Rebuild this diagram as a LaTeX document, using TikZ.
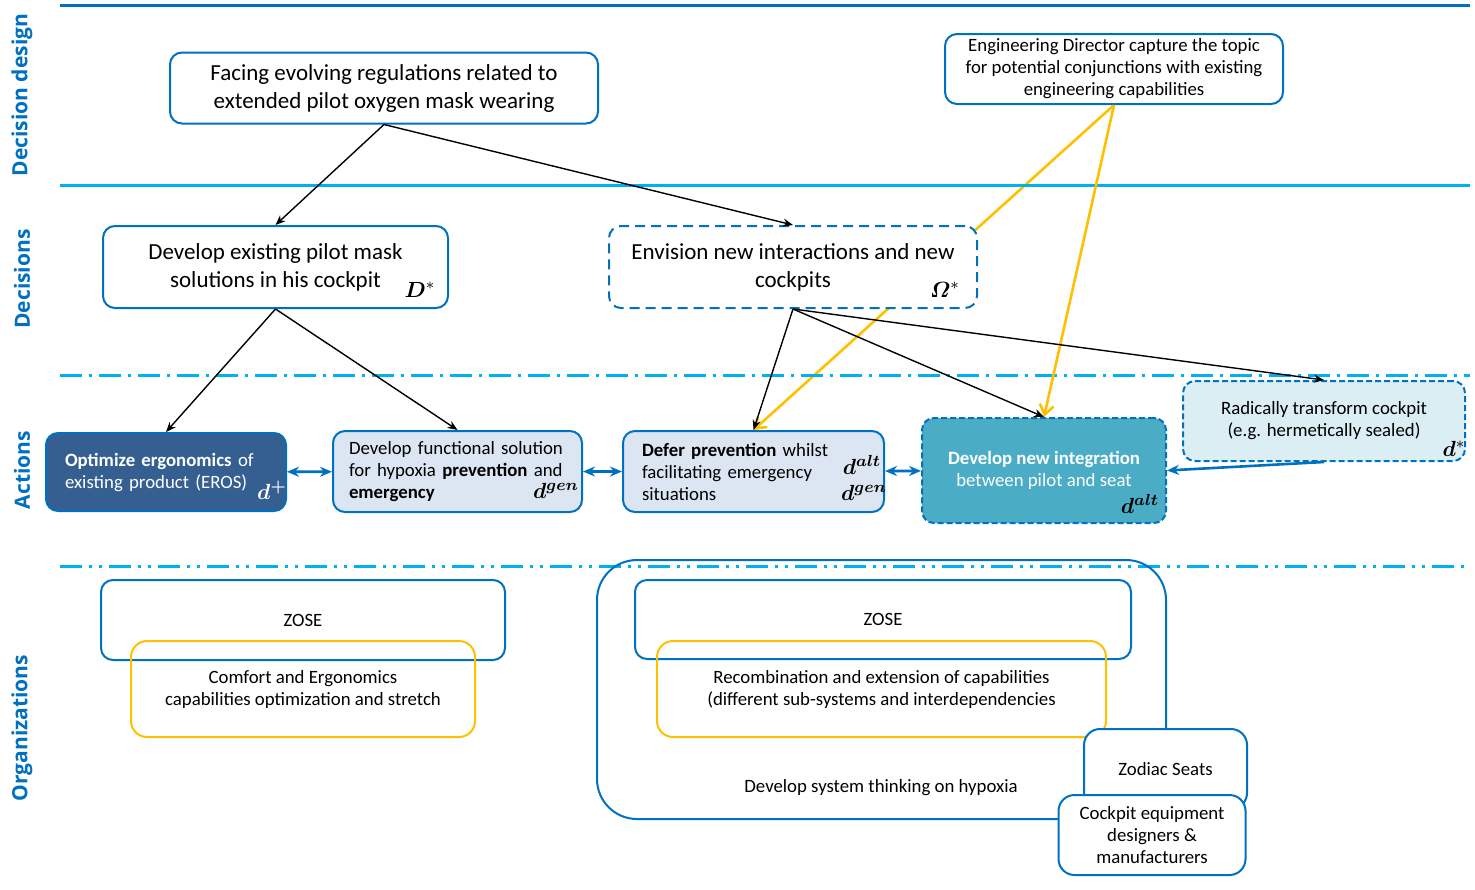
\documentclass[tikz,border=0pt]{standalone}
\usepackage{amsmath}
\usepackage{fontspec}
\setmainfont{Carlito}
\newfontfamily\lanefont{Open Sans}
\usepackage{bm}
\usetikzlibrary{arrows.meta,backgrounds}

\definecolor{laneblue}{HTML}{0070C0}
\definecolor{skyblue}{HTML}{00B0F0}
\definecolor{darkfill}{HTML}{365F91}
\definecolor{palefill}{HTML}{DCE6F2}
\definecolor{tealfill}{HTML}{4BACC6}
\definecolor{icefill}{HTML}{DAEEF3}
\definecolor{capyellow}{HTML}{FFC000}

\tikzset{
  box/.style={draw=laneblue,line width=1pt,rounded corners=6pt,fill=white,
    align=center,inner sep=0pt},
  capbox/.style={draw=capyellow,line width=1pt,rounded corners=8pt,align=center,inner sep=0pt},
  lane/.style={rotate=90,text=laneblue,font=\lanefont\bfseries\fontsize{10.5}{12}\selectfont},
  bigtext/.style={font=\fontsize{11.5}{14}\selectfont},
  smalltext/.style={font=\fontsize{9.4}{11}\selectfont},
  mathlbl/.style={font=\fontsize{11}{13}\selectfont,inner sep=0pt},
  sepdashdot/.style={dash pattern=on 11pt off 3.5pt on 1.5pt off 3.5pt},
  sepdashdotdot/.style={dash pattern=on 11pt off 3.5pt on 1.5pt off 3.5pt on 1.5pt off 3.5pt},
  choice/.style={->,line width=0.7pt},
  capline/.style={capyellow,line width=1.3pt},
  link/.style={boxlink,<->},
  boxlink/.style={laneblue,line width=1.3pt,>={Stealth[length=6pt,width=5pt]}},
}

\begin{document}
\begin{tikzpicture}[x=0.5pt,y=-0.5pt,>={Stealth[length=5pt,width=4pt]}]
  \useasboundingbox (0,0) rectangle (1475,889);
  % lanes
  \draw[laneblue,line width=1.5pt] (60,5) -- (1470,5);
  \draw[skyblue,line width=1.5pt] (60,185) -- (1470,185);
  \draw[skyblue,line width=1.5pt,sepdashdot] (60,375) -- (1470,375);
  \draw[skyblue,line width=1.5pt,sepdashdotdot] (60,566) -- (1470,566);
  \node[lane] (ldesign) at (22,95) {Decision design};
  \node[lane] (ldecision) at (22,279) {Decisions};
  \node[lane] (laction) at (22,470) {Actions};
  \node[lane] (lorg) at (22,728) {Organizations};

  % decision design and decisions
  \node[box,bigtext,minimum width=214pt,minimum height=35.5pt] (facing) at (384,88)
    {Facing evolving regulations related to\\extended pilot oxygen mask wearing};
  \node[box,smalltext,minimum width=169pt,minimum height=35pt] (engdir) at (1114,69)
    {Engineering Director capture the topic\\for potential conjunctions with existing\\engineering capabilities};
  \node[box,bigtext,minimum width=172.5pt,minimum height=41pt] (dstar) at (275.5,267)
    {Develop existing pilot mask\\solutions in his cockpit};
  \node[box,bigtext,dashed,dash pattern=on 5pt off 3pt,minimum width=184pt,minimum height=41pt] (omega) at (793,267)
    {Envision new interactions and new\\cockpits};
  \node[mathlbl] (dstarlbl) at (420,290) {$\bm{D}^{*}$};
  \node[mathlbl] (omegalbl) at (945,290) {$\bm{\varOmega}^{*}$};

  % actions
  \node[box,smalltext,fill=darkfill,text=white,align=left,inner xsep=9.5pt,text width=101pt,
    minimum height=39pt] (dplus) at (166,472)
    {\textbf{Optimize ergonomics} of\\existing product (EROS)};
  \node[box,smalltext,fill=palefill,align=left,inner xsep=8pt,text width=108.5pt,
    minimum height=40.5pt] (dgen) at (457.5,471.5)
    {Develop functional solution\\for hypoxia \textbf{prevention} and\\\textbf{emergency}};
  \node[box,smalltext,fill=palefill,align=left,inner xsep=9.5pt,text width=111.5pt,
    minimum height=40.5pt] (dalt) at (753.5,471.5)
    {\textbf{Defer prevention} whilst\\facilitating emergency\\situations};
  \node[box,smalltext,dashed,dash pattern=on 3pt off 1.5pt,fill=tealfill,text=white,
    minimum width=122pt,minimum height=52.5pt] (integ) at (1044,470.5)
    {\textbf{Develop new integration}\\between pilot and seat};
  \node[box,smalltext,dashed,dash pattern=on 3pt off 1.5pt,fill=icefill,
    minimum width=141pt,minimum height=40pt] (radical) at (1324,421)
    {Radically transform cockpit\\(e.g. hermetically sealed)};
  \node[mathlbl,text=white] (dpluslbl) at (272,490) {$\bm{d}^{\bm{+}}$};
  \node[mathlbl] (dgenlbl) at (556,491) {$\bm{d^{gen}}$};
  \node[mathlbl] (daltlbl) at (862,465) {$\bm{d^{alt}}$};
  \node[mathlbl] (dgenlblb) at (864,493) {$\bm{d^{gen}}$};
  \node[mathlbl] (integlbl) at (1140,504) {$\bm{d^{alt}}$};
  \node[mathlbl] (radicallbl) at (1454,449) {$\bm{d}^{*}$};

  % connectors
  \begin{pgfonlayer}{background}
    \draw[capline,-{Straight Barb[length=5pt,width=7pt]}] (engdir.south) -- (dalt.north);
  \end{pgfonlayer}
  \draw[capline,-{Straight Barb[length=5pt,width=7pt]}] (engdir.south) -- (integ.north);
  \draw[choice] (facing.south) -- (dstar.north);
  \draw[choice] (facing.south) -- (omega.north);
  \draw[choice] (dstar.south) -- (dplus.north);
  \draw[choice] (dstar.south) -- (dgen.north);
  \draw[choice] (omega.south) -- (dalt.north);
  \draw[choice] (omega.south) -- (integ.north);
  \draw[choice] (omega.south) -- (radical.north);
  \draw[link] (dplus) -- (dgen);
  \draw[link] (dgen) -- (dalt);
  \draw[link] (dalt) -- (integ);
  \draw[boxlink,->] (radical.south) -- (integ.east);

  % organizations
  \node[box,smalltext,fill=none,minimum width=202pt,minimum height=40pt] (zoseA) at (303,620) {ZOSE};
  \node[capbox,smalltext,minimum width=172pt,minimum height=48pt] (comfort) at (303,689)
    {Comfort and Ergonomics\\capabilities optimization and stretch};
  \node[box,fill=none,rounded corners=20pt,minimum width=284.5pt,minimum height=129.5pt] (sysorg) at (881.5,689.5) {};
  \node[smalltext] (sysorgtxt) at (881,788) {Develop system thinking on hypoxia};
  \node[box,smalltext,fill=none,minimum width=248pt,minimum height=39.5pt] (zoseB) at (883,619.5) {ZOSE};
  \node[capbox,smalltext,minimum width=224.5pt,minimum height=48pt] (recomb) at (881.5,689)
    {Recombination and extension of capabilities\\(different sub-systems and interdependencies};
  \node[box,smalltext,rounded corners=8pt,minimum width=81.5pt,minimum height=40pt] (zodiac) at (1165.5,769) {Zodiac Seats};
  \node[box,smalltext,rounded corners=8pt,minimum width=93.5pt,minimum height=40pt] (cockpit) at (1152,835)
    {Cockpit equipment\\designers \&\\manufacturers};
\end{tikzpicture}
\end{document}
